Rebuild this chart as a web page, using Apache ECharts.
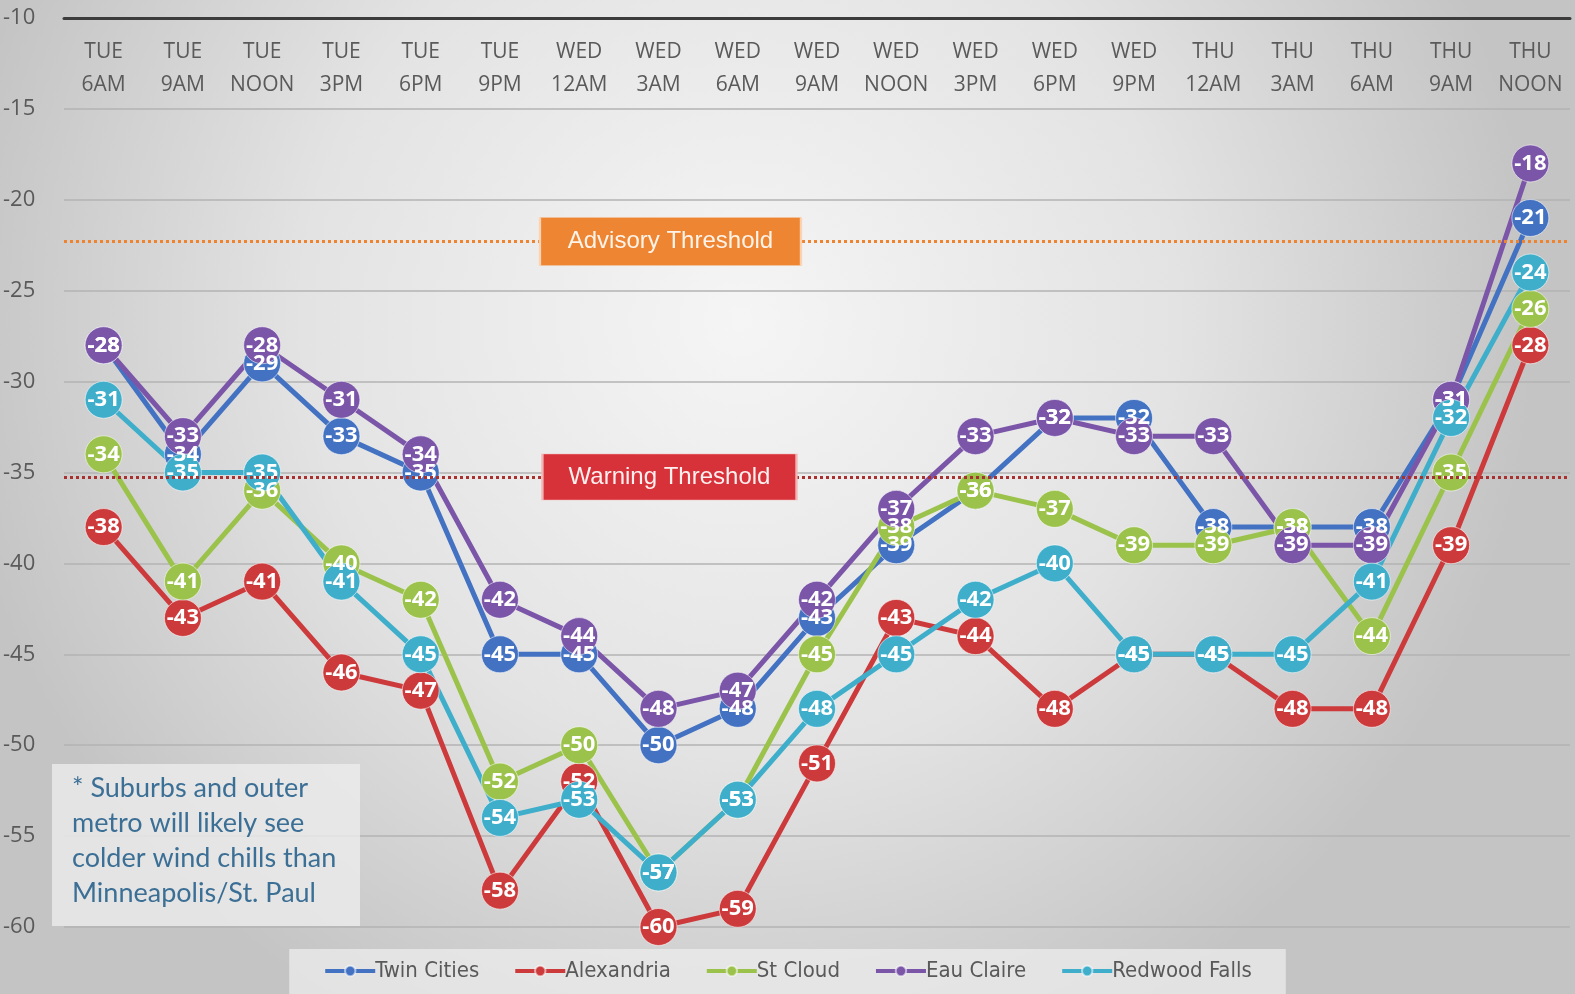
<!DOCTYPE html>
<html>
<head>
<meta charset="utf-8">
<script src="https://cdn.jsdelivr.net/npm/echarts@6/dist/echarts.min.js"></script>
<style>
html,body{margin:0;padding:0;width:1575px;height:994px;overflow:hidden;}
#chart{width:1575px;height:994px;}
</style>
</head>
<body>
<div id="chart"></div>
<script>
const categories = ['TUE\n6AM','TUE\n9AM','TUE\nNOON','TUE\n3PM','TUE\n6PM','TUE\n9PM','WED\n12AM','WED\n3AM','WED\n6AM','WED\n9AM','WED\nNOON','WED\n3PM','WED\n6PM','WED\n9PM','THU\n12AM','THU\n3AM','THU\n6AM','THU\n9AM','THU\nNOON'];
const twinCities   = [-28,-34,-29,-33,-35,-45,-45,-50,-48,-43,-39,-36,-32,-32,-38,-38,-38,-31,-21];
const alexandria   = [-38,-43,-41,-46,-47,-58,-52,-60,-59,-51,-43,-44,-48,-45,-45,-48,-48,-39,-28];
const stCloud      = [-34,-41,-36,-40,-42,-52,-50,-57,-53,-45,-38,-36,-37,-39,-39,-38,-44,-35,-26];
const eauClaire    = [-28,-33,-28,-31,-34,-42,-44,-48,-47,-42,-37,-33,-32,-33,-33,-39,-39,-31,-18];
const redwoodFalls = [-31,-35,-35,-41,-45,-54,-53,-57,-53,-48,-45,-42,-40,-45,-45,-45,-41,-32,-24];
const seriesNames  = ['Twin Cities','Alexandria','St Cloud','Eau Claire','Redwood Falls'];
const seriesColors = ['#4472C2','#CD3A3C','#9BC24B','#7B55A8','#3FAECB'];
const advisoryThreshold = -22.3;
const warningThreshold = -35.25;
const thresholdLabels = ['Advisory Threshold','Warning Threshold'];
const noteLines = ['* Suburbs and outer','metro will likely see','colder wind chills than','Minneapolis/St. Paul'];
const yTicks = {min:-60, max:-10, interval:5};

const allData = [twinCities, alexandria, stCloud, eauClaire, redwoodFalls];

const chart = echarts.init(document.getElementById('chart'), null, {renderer:'canvas'});

const lineSeries = allData.map((d, i) => ({
  name: seriesNames[i],
  type: 'line',
  data: d,
  symbol: 'circle',
  symbolSize: 37,
  color: seriesColors[i],
  lineStyle: {width: 5, color: seriesColors[i]},
  itemStyle: {color: seriesColors[i], borderColor: 'rgba(255,255,255,0.55)', borderWidth: 1},
  label: {
    show: true, position: 'inside', color: '#ffffff', fontWeight: 'bold',
    fontSize: 22, fontFamily: 'Open Sans', formatter: p => String(p.value)
  },
  emphasis: {disabled: true},
  z: 3
}));

const thresholdSeries = {
  name: 'thresholds',
  type: 'line',
  data: categories.map(() => null),
  silent: true,
  z: 2,
  markLine: {
    silent: true,
    symbol: 'none',
    label: {show: false},
    data: [
      {yAxis: advisoryThreshold, lineStyle: {color: '#EE8330', type: [3, 3], width: 3}},
      {yAxis: warningThreshold, lineStyle: {color: '#A8302E', type: [3, 3], width: 3}}
    ]
  },
  markPoint: {
    silent: true,
    data: [
      {
        coord: [7, advisoryThreshold], symbol: 'rect', symbolSize: [261, 48], symbolOffset: [12, 0],
        itemStyle: {color: '#EE8532', borderColor: '#fbd3b3', borderWidth: 1},
        label: {show: true, position: 'inside', formatter: thresholdLabels[0], color: '#fff4ea', fontSize: 24, fontFamily: 'Liberation Sans'}
      },
      {
        coord: [7, warningThreshold], symbol: 'rect', symbolSize: [254, 46], symbolOffset: [11, 0],
        itemStyle: {color: '#D7323A', borderColor: '#f2b4b4', borderWidth: 1},
        label: {show: true, position: 'inside', formatter: thresholdLabels[1], color: '#fff0f0', fontSize: 24, fontFamily: 'Liberation Sans'}
      }
    ]
  }
};

const option = {
  animation: false,
  backgroundColor: {
    type: 'radial', x: 0.47, y: 0.32, r: 0.8,
    colorStops: [
      {offset: 0, color: '#f5f5f5'},
      {offset: 0.55, color: '#e3e3e3'},
      {offset: 1, color: '#c4c4c4'}
    ]
  },
  grid: {left: 64, right: 5, top: 18, bottom: 67, containLabel: false},
  xAxis: {
    type: 'category',
    data: categories,
    position: 'top',
    boundaryGap: true,
    axisLine: {show: true, lineStyle: {color: '#3c3c3c', width: 3}},
    axisTick: {show: false},
    axisLabel: {
      inside: true, interval: 0, margin: 18, fontSize: 21, lineHeight: 33,
      color: '#5a5a5a', fontFamily: 'Open Sans'
    },
    splitLine: {show: false}
  },
  yAxis: {
    type: 'value',
    min: yTicks.min, max: yTicks.max, interval: yTicks.interval,
    axisLine: {show: false},
    axisTick: {show: false},
    axisLabel: {align: 'left', margin: 61, fontSize: 22, color: '#5a5a5a', fontFamily: 'Open Sans'},
    splitLine: {lineStyle: {color: '#b3b3b3', width: 1.5}}
  },
  legend: {
    data: seriesNames,
    bottom: 0,
    left: 'center',
    padding: [11, 34, 12, 34],
    itemGap: 34,
    itemWidth: 50,
    itemHeight: 13,
    lineStyle: {width: 4},
    backgroundColor: 'rgba(236,236,236,0.75)',
    textStyle: {fontSize: 22, color: '#595959', fontFamily: 'DejaVu Sans Condensed', padding: [0, 0, 0, -5]}
  },
  graphic: [
    {
      type: 'rect', left: 52, top: 764, z: 1,
      shape: {width: 308, height: 162},
      style: {fill: 'rgba(236,236,236,0.8)'}
    },
    {
      type: 'text', left: 72, top: 771, z: 2,
      style: {
        text: noteLines.join('\n'), fill: '#3B6F95', fontSize: 27, lineHeight: 35,
        fontFamily: 'Lato'
      }
    }
  ],
  series: [thresholdSeries].concat(lineSeries)
};

chart.setOption(option);
</script>
</body>
</html>
